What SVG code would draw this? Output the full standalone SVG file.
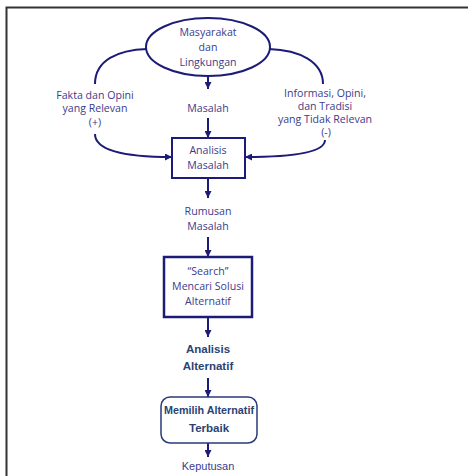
<svg xmlns="http://www.w3.org/2000/svg" width="468" height="476" viewBox="0 0 468 476">
<defs>
<marker id="ah" viewBox="0 0 10 10" refX="10" refY="5" markerWidth="7" markerHeight="7" markerUnits="userSpaceOnUse" orient="auto">
<path d="M0,0 L10,5 L0,10 Z" fill="#1c1c78"/>
</marker>
<style>
.ln{fill:none;stroke:#1c1c78;stroke-width:2}
.bx{fill:#fff;stroke:#1c1c78;stroke-width:2}
.t{font-family:"Open Sans","DejaVu Sans",sans-serif;font-size:10.6px;fill:#3c3c8c;text-anchor:middle}
.b{font-family:"Liberation Sans",Arial,sans-serif;font-size:11.5px;font-weight:bold;fill:#2a4373;text-anchor:middle}
.k{font-family:"Liberation Sans",Arial,sans-serif;font-size:11px;fill:#3c3c8c;text-anchor:middle}
</style>
</defs>
<rect width="468" height="476" fill="#fff"/>
<path d="M6.5,476 V7.5 H468" fill="none" stroke="#333" stroke-width="2"/>
<g id="connectors">
<path class="ln" d="M147,49 C118,50 95,60 95,84"/>
<path class="ln" d="M269,49 C300,50 323,62 323,84"/>
<path class="ln" d="M95,134 C95,152 130,157 172,157" marker-end="url(#ah)"/>
<path class="ln" d="M325,140 C325,153 290,157 245,157" marker-end="url(#ah)"/>
<path class="ln" d="M208,77 V89" marker-end="url(#ah)"/>
<path class="ln" d="M208,118 V138" marker-end="url(#ah)"/>
<path class="ln" d="M208,178 V198" marker-end="url(#ah)"/>
<path class="ln" d="M208,237 V257" marker-end="url(#ah)"/>
<path class="ln" d="M208,317 V337" marker-end="url(#ah)"/>
<path class="ln" d="M208,378 V397" marker-end="url(#ah)"/>
<path class="ln" d="M208,443 V457" marker-end="url(#ah)"/>
</g>
<g id="masyarakat">
<ellipse cx="208" cy="47" rx="62" ry="29" class="bx"/>
<text class="t" x="208" y="36">Masyarakat</text>
<text class="t" x="208" y="51">dan</text>
<text class="t" x="208" y="66">Lingkungan</text>
</g>
<g id="fakta">
<text class="t" x="95" y="99">Fakta dan Opini</text>
<text class="t" x="95" y="112">yang Relevan</text>
<text class="t" x="95" y="126">(+)</text>
</g>
<g id="informasi">
<text class="t" x="325" y="97">Informasi, Opini,</text>
<text class="t" x="325" y="110">dan Tradisi</text>
<text class="t" x="325" y="123">yang Tidak Relevan</text>
<text class="t" x="326" y="136">(-)</text>
</g>
<g id="masalah">
<text class="t" x="208" y="112">Masalah</text>
</g>
<g id="analisis-masalah">
<rect class="bx" x="172" y="138" width="73" height="40"/>
<text class="t" x="208" y="154">Analisis</text>
<text class="t" x="208" y="169">Masalah</text>
</g>
<g id="rumusan">
<text class="t" x="208" y="215">Rumusan</text>
<text class="t" x="208" y="230">Masalah</text>
</g>
<g id="search">
<rect class="bx" x="164" y="257" width="88" height="60" style="stroke-width:2.5"/>
<text class="t" x="208" y="275">“Search”</text>
<text class="t" x="208" y="290">Mencari Solusi</text>
<text class="t" x="208" y="305">Alternatif</text>
</g>
<g id="analisis-alternatif">
<text class="b" x="208" y="353">Analisis</text>
<text class="b" x="208" y="370">Alternatif</text>
</g>
<g id="memilih">
<rect x="161" y="397" width="96" height="46" rx="9" fill="#fff" stroke="#2a3a7a" stroke-width="1.5"/>
<text class="b" x="209" y="414" textLength="90" lengthAdjust="spacingAndGlyphs">Memilih Alternatif</text>
<text class="b" x="209" y="432">Terbaik</text>
</g>
<g id="keputusan">
<text class="k" x="208" y="470">Keputusan</text>
</g>
</svg>
